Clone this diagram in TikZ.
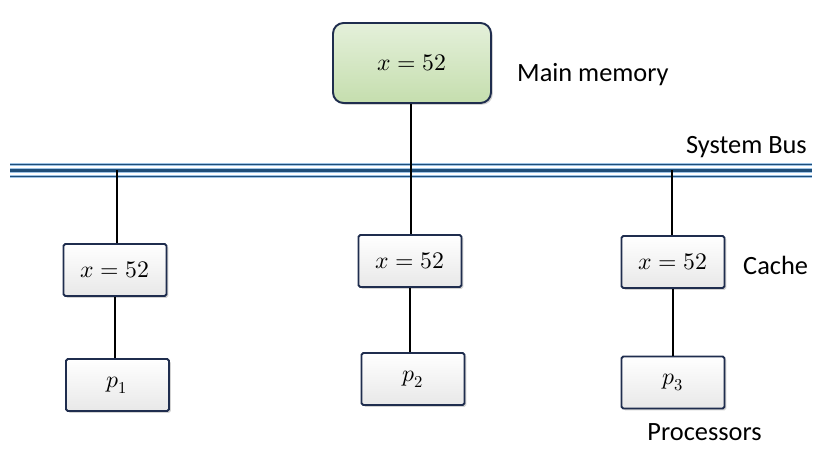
\documentclass[tikz,border=0pt]{standalone}
\usepackage{amsmath}
\usepackage{xcolor}
\usepackage{fontspec}
\usepackage{unicode-math}
\setmainfont{Carlito}
\setmathfont{Latin Modern Math}
\usepackage{tikz}
\usetikzlibrary{shadows}

\definecolor{boxline}{HTML}{1F2D4E}
\definecolor{memtop}{HTML}{E4F0DA}
\definecolor{membot}{HTML}{C5DEAE}
\definecolor{busdark}{HTML}{1F4E79}
\definecolor{buslight}{HTML}{9DC3E6}

\tikzset{
    cachebox/.style={draw=boxline, line width=1.1pt, minimum width=2.06cm, minimum height=1.04cm,
        top color=white, bottom color=gray!18, rounded corners=1pt,
        drop shadow={opacity=0.35, shadow xshift=1pt, shadow yshift=-1pt},
        font=\fontsize{13.5}{15}\selectfont},
    membox/.style={cachebox, minimum width=3.16cm, minimum height=1.6cm, rounded corners=6pt,
        top color=memtop, bottom color=membot},
    label/.style={font=\fontsize{15}{18}\selectfont},
    wire/.style={line width=0.9pt}
}

\begin{document}
\begin{tikzpicture}
        \useasboundingbox (0,0) rectangle (16.52,9.18);

        \node[membox] (mem) at (8.24, 7.92) {$x = 52$};
        \node[label, anchor=west] at (10.22, 7.68) {Main memory};

        \foreach \y/\w in {5.89/0.7pt, 5.77/1.8pt, 5.65/0.7pt} {
            \draw[buslight, line width=\w+1pt] (0.2, \y) -- (16.24, \y);
            \draw[busdark, line width=\w] (0.2, \y) -- (16.24, \y);
        }
        \coordinate (bus1) at (2.34, 5.77);
        \coordinate (bus2) at (8.22, 5.77);
        \coordinate (bus3) at (13.44, 5.77);
        \node[label, anchor=east] at (16.26, 6.24) {System Bus};

        \node[cachebox] (c1) at (2.30, 3.78) {$x = 52$};
        \node[cachebox] (c2) at (8.20, 3.96) {$x = 52$};
        \node[cachebox] (c3) at (13.46, 3.94) {$x = 52$};
        \node[label, anchor=west] at (14.74, 3.88) {Cache};

        \node[cachebox] (p1) at (2.35, 1.48) {$p_1$};
        \node[cachebox] (p2) at (8.26, 1.60) {$p_2$};
        \node[cachebox] (p3) at (13.46, 1.53) {$p_3$};
        \node[label] at (14.09, 0.54) {Processors};

        \draw[wire] (mem.south -| bus2) -- (bus2 |- c2.north);
        \draw[wire] (bus1) -- (bus1 |- c1.north);
        \draw[wire] (bus3) -- (bus3 |- c3.north);

        \draw[wire] (p1.north -| c1.south) -- (c1.south);
        \draw[wire] (p2.north -| c2.south) -- (c2.south);
        \draw[wire] (p3.north) -- (c3.south);
    \end{tikzpicture}
\end{document}
